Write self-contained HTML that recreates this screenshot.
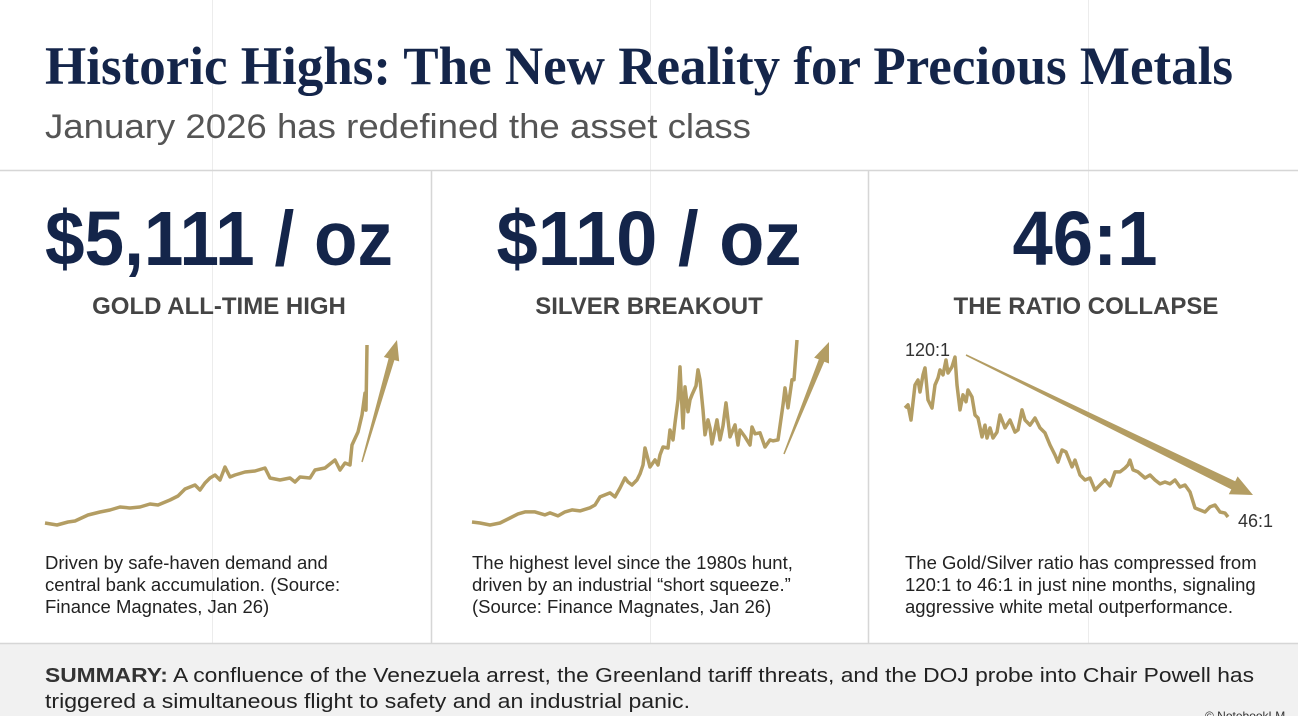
<!DOCTYPE html>
<html><head><meta charset="utf-8">
<style>
html,body{margin:0;padding:0;background:#fff;}
body{width:1298px;height:716px;overflow:hidden;}
svg{display:block;}
.sans{font-family:"Liberation Sans",Arial,sans-serif;}
</style></head>
<body>
<svg id="chart" width="1298" height="716" viewBox="0 0 1298 716" xmlns="http://www.w3.org/2000/svg">
  <rect x="0" y="0" width="1298" height="716" fill="#ffffff"/>
  <g stroke="#ececec" stroke-width="1">
    <line x1="212.5" y1="0" x2="212.5" y2="643"/>
    <line x1="650.5" y1="0" x2="650.5" y2="643"/>
    <line x1="1088.5" y1="0" x2="1088.5" y2="643"/>
  </g>
  <text x="45" y="84" font-family="'Liberation Serif',serif" font-weight="bold" font-size="54" fill="#14254a" textLength="1188" lengthAdjust="spacingAndGlyphs">Historic Highs: The New Reality for Precious Metals</text>
  <text x="45" y="138" class="sans" font-size="34" fill="#555555" textLength="706" lengthAdjust="spacingAndGlyphs">January 2026 has redefined the asset class</text>
  <line x1="0" y1="170.5" x2="1298" y2="170.5" stroke="#d6d6d6" stroke-width="1.5"/>
  <line x1="431.5" y1="171" x2="431.5" y2="643" stroke="#d6d6d6" stroke-width="1.5"/>
  <line x1="868.5" y1="171" x2="868.5" y2="643" stroke="#d6d6d6" stroke-width="1.5"/>

  <text x="219" y="265" text-anchor="middle" class="sans" font-weight="bold" font-size="77" fill="#14254a" textLength="348" lengthAdjust="spacingAndGlyphs">$5,111 / oz</text>
  <text x="219" y="314" text-anchor="middle" class="sans" font-weight="bold" font-size="24" fill="#444444">GOLD ALL-TIME HIGH</text>
  <text x="649" y="265" text-anchor="middle" class="sans" font-weight="bold" font-size="77" fill="#14254a" textLength="305" lengthAdjust="spacingAndGlyphs">$110 / oz</text>
  <text x="649" y="314" text-anchor="middle" class="sans" font-weight="bold" font-size="24" fill="#444444">SILVER BREAKOUT</text>
  <text x="1085" y="265" text-anchor="middle" class="sans" font-weight="bold" font-size="77" fill="#14254a" textLength="145" lengthAdjust="spacingAndGlyphs">46:1</text>
  <text x="1086" y="314" text-anchor="middle" class="sans" font-weight="bold" font-size="24" fill="#444444">THE RATIO COLLAPSE</text>

  <g id="plots"></g>

  <text x="905" y="356" class="sans" font-size="18" fill="#333">120:1</text>
  <text x="1238" y="527" class="sans" font-size="18" fill="#333">46:1</text>

  <g class="sans" font-size="18.5" fill="#222">
    <text x="45" y="569">Driven by safe-haven demand and</text>
    <text x="45" y="591">central bank accumulation. (Source:</text>
    <text x="45" y="613">Finance Magnates, Jan 26)</text>
  </g>
  <g class="sans" font-size="18.5" fill="#222">
    <text x="472" y="569">The highest level since the 1980s hunt,</text>
    <text x="472" y="591">driven by an industrial “short squeeze.”</text>
    <text x="472" y="613">(Source: Finance Magnates, Jan 26)</text>
  </g>
  <g class="sans" font-size="18.5" fill="#222">
    <text x="905" y="569">The Gold/Silver ratio has compressed from</text>
    <text x="905" y="591">120:1 to 46:1 in just nine months, signaling</text>
    <text x="905" y="613">aggressive white metal outperformance.</text>
  </g>

  <rect x="0" y="643" width="1298" height="73" fill="#f1f1f1"/>
  <line x1="0" y1="643.5" x2="1298" y2="643.5" stroke="#d6d6d6" stroke-width="1.5"/>
  <text x="45" y="682" class="sans" font-size="20" fill="#222" textLength="1209" lengthAdjust="spacingAndGlyphs"><tspan font-weight="bold" fill="#333">SUMMARY:</tspan> A confluence of the Venezuela arrest, the Greenland tariff threats, and the DOJ probe into Chair Powell has</text>
  <text x="45" y="708" class="sans" font-size="20" fill="#222" textLength="645" lengthAdjust="spacingAndGlyphs">triggered a simultaneous flight to safety and an industrial panic.</text>
  <text x="1205" y="720" class="sans" font-size="12" fill="#333">© NotebookLM</text>
</svg>
<script>
const goldDays = [0,12,23,30,43,55,65,75,85,95,105,113,125,133,140,150,155,160,165,170,175,180,185,190,200,210,220,225,235,245,250,255,265,270,280,290,295,300,305,307,313,317,320,321,322];
const goldPrices = [1781,1744,1800,1819,1931,1987,2024,2081,2062,2081,2137,2118,2211,2286,2417,2492,2398,2529,2623,2679,2585,2829,2642,2679,2735,2754,2810,2623,2585,2623,2548,2642,2623,2772,2810,2959,2772,2903,2866,3240,3483,3801,4212,3894,5111];
const silverDays = [0,8,18,28,38,46,53,63,73,78,86,93,100,108,118,123,128,138,143,148,153,156,160,165,168,171,173,178,183,186,188,191,196,198,201,203,206,208,211,213,216,218,220,224,226,228,231,233,236,238,240,245,248,251,254,256,258,263,266,268,273,278,280,283,288,293,298,301,306,311,313,316,320,322,325];
const silverPrices = [20,19.5,18.5,19.5,22,24,25,25,23.5,24.5,23,25,26,25.5,27,28.4,32.4,34.4,32.4,36.8,41.8,39.8,38.3,40.8,43.8,48.2,56.6,47.2,50.7,48.2,53.2,57.1,56.6,65.5,60.6,69,80.4,96.7,66.5,86.8,74.5,80.4,82.9,87.3,95.2,90.3,75.4,63.1,70.5,66.5,58.6,70.5,60.6,67.5,78.9,70.5,62.1,68,58.1,65.5,62.1,58.1,67,63.6,64.1,57.1,60.6,60.1,60.6,77.9,86.3,76.4,90.3,90.3,110];
const ratioDays = [0,3,6,10,13,15,18,20,23,27,30,33,35,38,41,43,47,50,52,55,58,61,63,67,70,73,77,80,82,85,88,92,95,100,105,110,113,117,120,125,130,135,140,145,150,153,157,161,167,170,175,180,185,190,195,200,205,210,215,220,223,225,228,233,240,245,250,255,260,265,270,275,280,285,290,295,300,305,310,315,320,323];
const ratioValues = [95.8,97.2,90.3,106.3,108.6,103.1,110.9,114.1,99.5,95.8,106.3,109.5,113.2,110.9,117.7,111.8,114.6,119.1,106.3,94.9,101.8,98.6,104,100.8,92.6,91.2,82.6,88,82.1,86.7,82.1,84.8,92.6,86.7,90.3,84.8,85.8,94.9,90.3,88,91.2,86.7,84.4,78.9,74.3,71.1,76.6,75.7,68.9,72,65.2,62.9,63.8,58.3,60.6,62.9,60.2,66.6,66.6,68.4,69.8,72,67.5,66.6,63.8,65.2,62.9,61.1,62,61.1,62.9,59.7,60.6,57.4,50.1,49.2,48.3,50.6,51.5,48.3,47.8,46];

const NS = 'http://www.w3.org/2000/svg';
const plots = document.getElementById('plots');
function lin(d0,d1,r0,r1){return v=>r0+(v-d0)*(r1-r0)/(d1-d0);}
function drawLine(days, vals, xs, ys, name){
  const p = document.createElementNS(NS,'path');
  let d='';
  for(let i=0;i<days.length;i++){d+=(i?'L':'M')+xs(days[i]).toFixed(1)+','+ys(vals[i]).toFixed(1);}
  p.setAttribute('d',d);
  p.setAttribute('fill','none');
  p.setAttribute('stroke','#b39d63');
  p.setAttribute('stroke-width','3.5');
  p.setAttribute('stroke-linejoin','round');
  
  
  plots.appendChild(p);
}
function wedgeArrow(x1,y1,x2,y2,w0,w1,hw,hl,name){
  const dx=x2-x1, dy=y2-y1, L=Math.hypot(dx,dy), ux=dx/L, uy=dy/L, nx=-uy, ny=ux;
  const bx=x2-ux*hl, by=y2-uy*hl;
  const pts=[[x1+nx*w0/2,y1+ny*w0/2],[bx+nx*w1/2,by+ny*w1/2],[bx+nx*hw/2,by+ny*hw/2],[x2,y2],[bx-nx*hw/2,by-ny*hw/2],[bx-nx*w1/2,by-ny*w1/2],[x1-nx*w0/2,y1-ny*w0/2]];
  const p=document.createElementNS(NS,'polygon');
  p.setAttribute('points',pts.map(q=>q[0].toFixed(1)+','+q[1].toFixed(1)).join(' '));
  p.setAttribute('fill','#b39d63');
  
  
  plots.appendChild(p);
}
const gx=lin(0,322,45,367), gy=lin(1800,5111,522,345);
drawLine(goldDays,goldPrices,gx,gy,'gold-price-line');
const sx=lin(0,325,472,797), sy=lin(20,110,522,340);
drawLine(silverDays,silverPrices,sx,sy,'silver-price-line');
const rx=lin(0,323,905,1228), ry=lin(46,120,517,355);
drawLine(ratioDays,ratioValues,rx,ry,'ratio-line');
wedgeArrow(362,462,397,340,1.5,6,16,20,'gold-trend-arrow');
wedgeArrow(784,454,829,342,1.5,6,16,20,'silver-trend-arrow');
wedgeArrow(966,355,1253,495,1.5,9,20,22,'ratio-trend-arrow');
</script>
</body></html>
